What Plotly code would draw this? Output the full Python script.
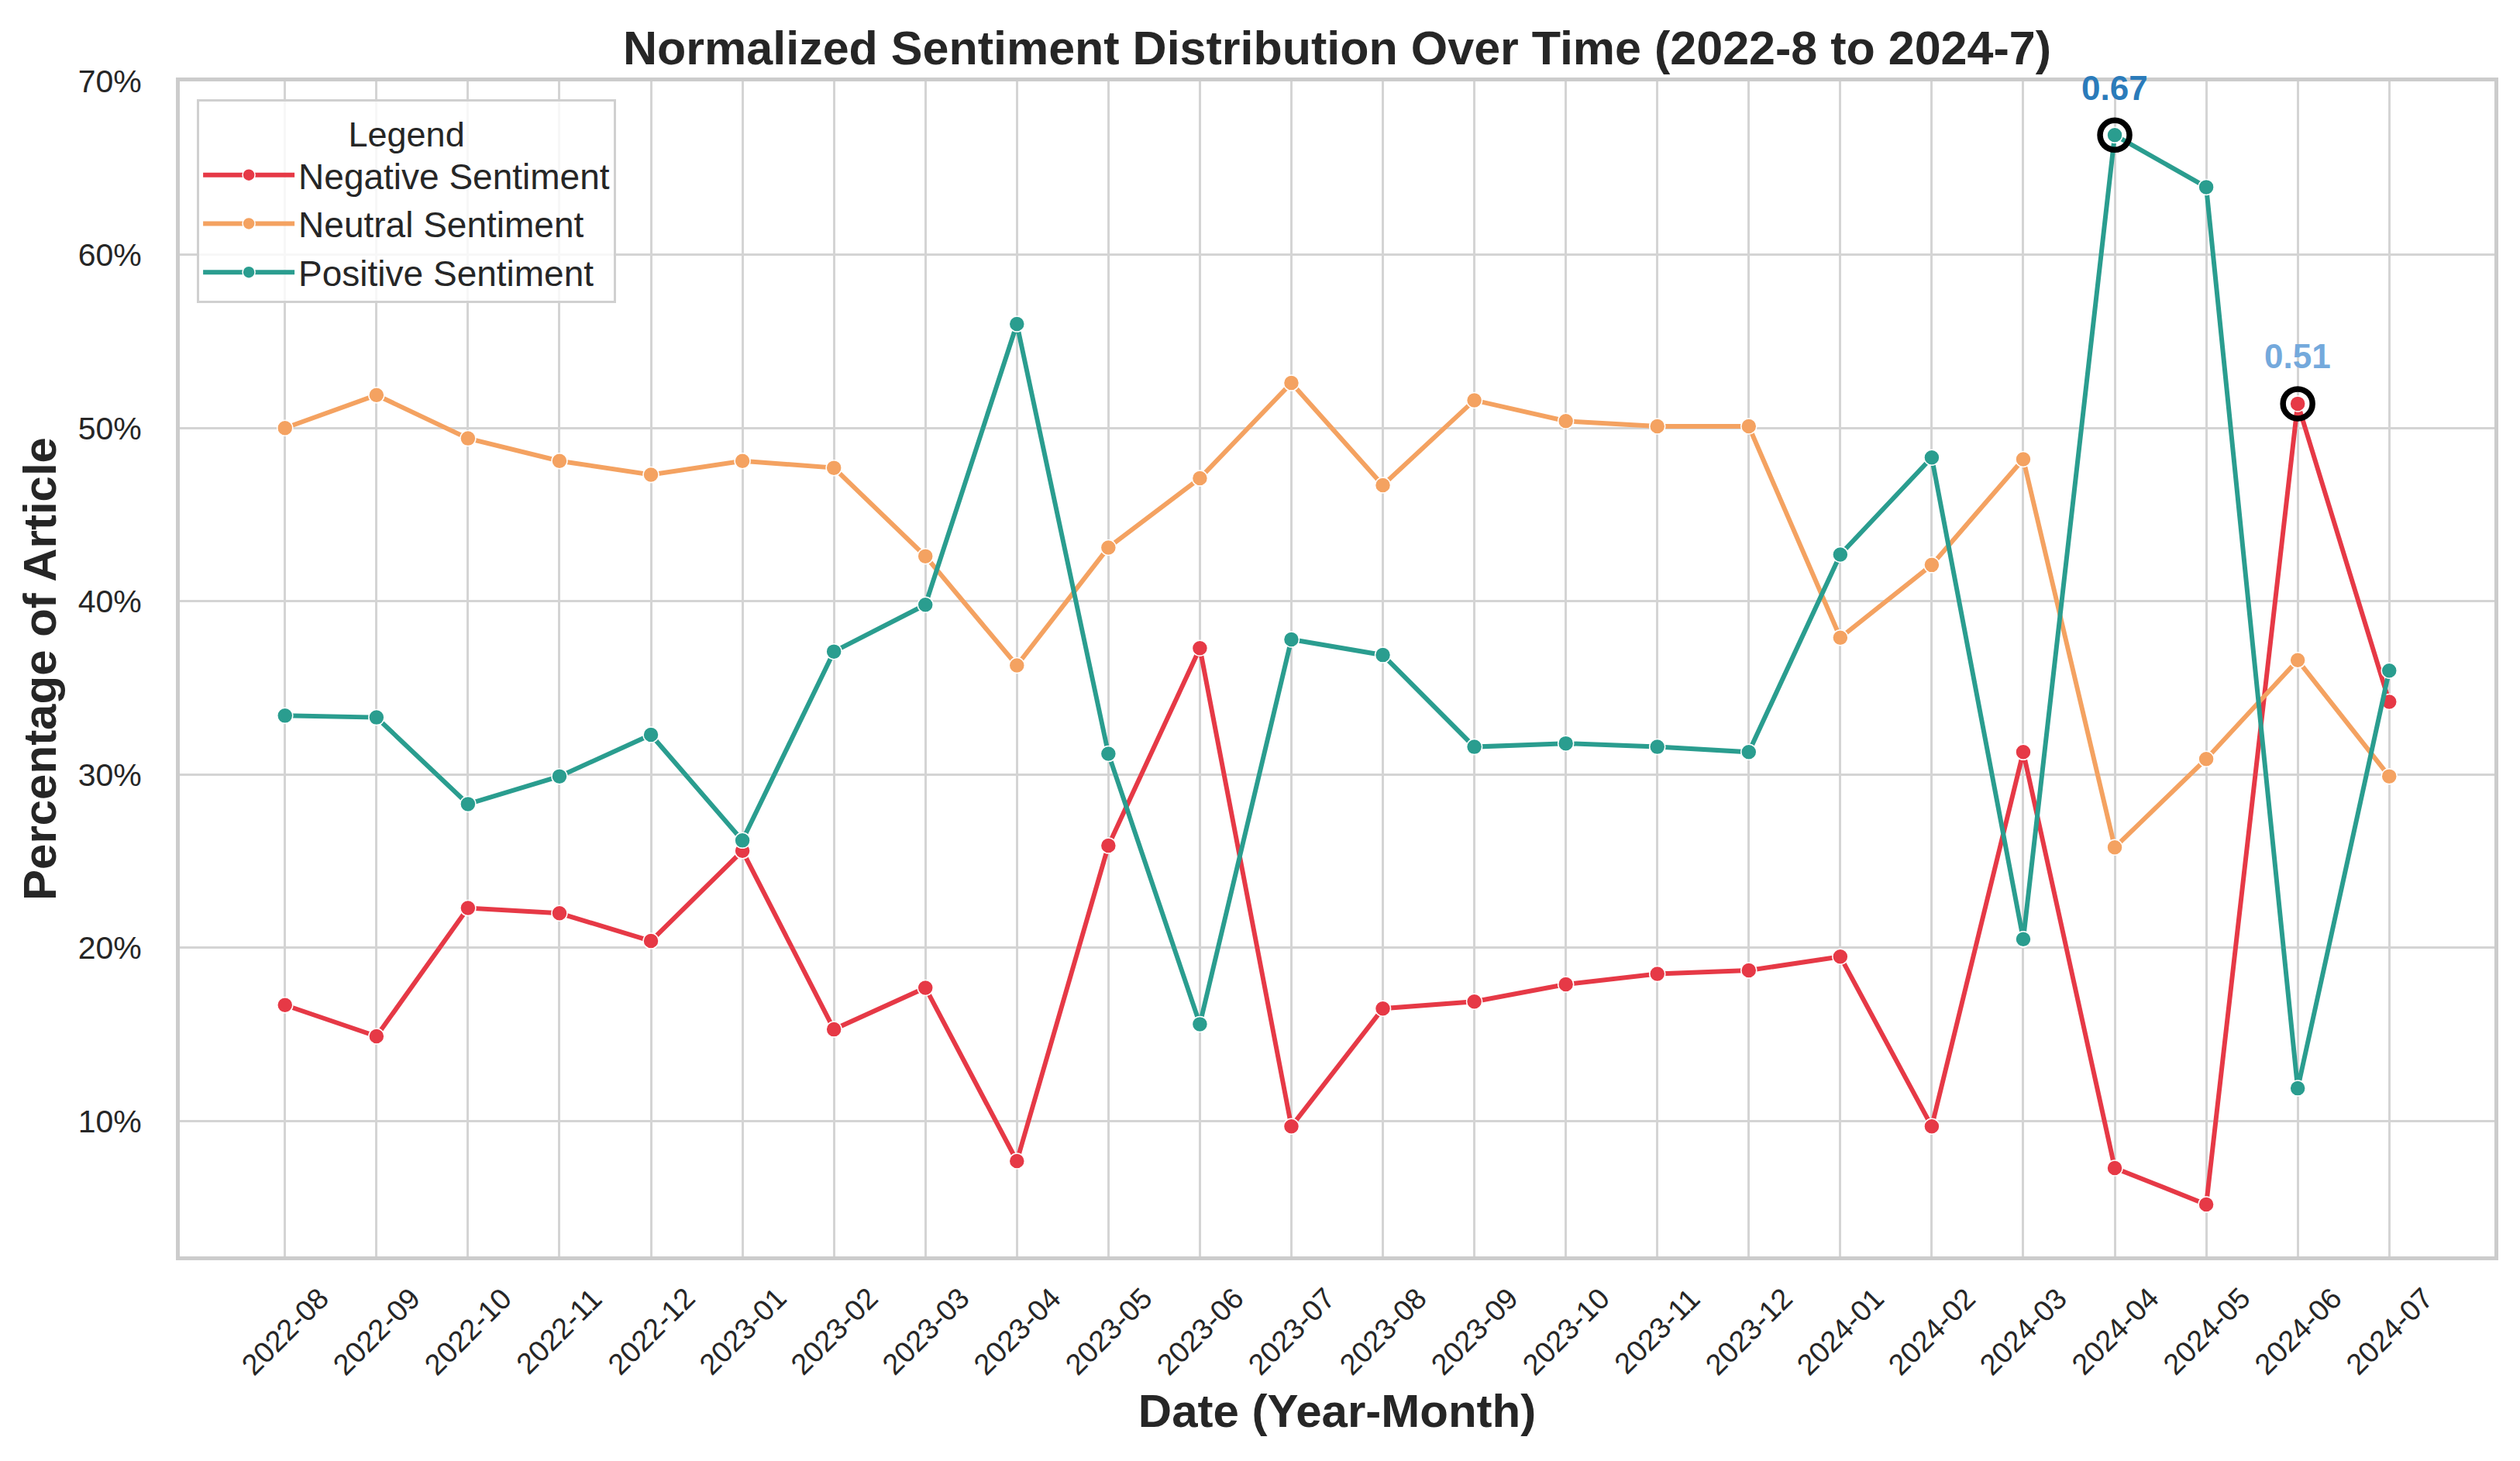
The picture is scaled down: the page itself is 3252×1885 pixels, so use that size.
import plotly.graph_objects as go

months = ["2022-08", "2022-09", "2022-10", "2022-11", "2022-12", "2023-01", "2023-02",
          "2023-03", "2023-04", "2023-05", "2023-06", "2023-07", "2023-08", "2023-09",
          "2023-10", "2023-11", "2023-12", "2024-01", "2024-02", "2024-03", "2024-04",
          "2024-05", "2024-06", "2024-07"]

negative = [16.7, 14.9, 22.3, 22.0, 20.4, 25.6, 15.3, 17.7, 7.7, 25.9, 37.3, 9.7,
            16.5, 16.9, 17.9, 18.5, 18.7, 19.5, 9.7, 31.3, 7.3, 5.2, 51.4, 34.2]
neutral = [50.0, 51.9, 49.4, 48.1, 47.3, 48.1, 47.7, 42.6, 36.3, 43.1, 47.1, 52.6,
           46.7, 51.6, 50.4, 50.1, 50.1, 37.9, 42.1, 48.2, 25.8, 30.9, 36.6, 29.9]
positive = [33.4, 33.3, 28.3, 29.9, 32.3, 26.2, 37.1, 39.8, 56.0, 31.2, 15.6, 37.8,
            36.9, 31.6, 31.8, 31.6, 31.3, 42.7, 48.3, 20.5, 66.9, 63.9, 11.9, 36.0]

series_names = ["Negative Sentiment", "Neutral Sentiment", "Positive Sentiment"]
series_values = [negative, neutral, positive]
series_colors = ["#e63946", "#f4a261", "#2a9d8f"]

y_ticks = [10, 20, 30, 40, 50, 60, 70]

FONT = "Arial, Liberation Sans, Helvetica, sans-serif"
TXT = "#262626"

fig = go.Figure()

for name, vals, col in zip(series_names, series_values, series_colors):
    fig.add_trace(go.Scatter(
        x=months, y=vals, name=name, mode="lines+markers",
        line=dict(color=col, width=6),
        marker=dict(color=col, size=20, line=dict(color="white", width=1.5)),
    ))

# highlight peaks (max positive, max negative)
peak_pos_i = positive.index(max(positive))
peak_neg_i = negative.index(max(negative))
highlights = [(months[peak_pos_i], positive[peak_pos_i], "#2b7bba"),
              (months[peak_neg_i], negative[peak_neg_i], "#74a9dc")]

fig.add_trace(go.Scatter(
    x=[h[0] for h in highlights], y=[h[1] for h in highlights],
    mode="markers", showlegend=False, hoverinfo="skip",
    marker=dict(symbol="circle-open", size=38, color="black", line=dict(color="black", width=7.5)),
))

annotations = []
for xm, yv, col in highlights:
    annotations.append(dict(
        x=xm, y=yv, xref="x", yref="y", text=f"<b>{yv/100:.2f}</b>",
        showarrow=False, yshift=61, xanchor="center", yanchor="middle",
        font=dict(family=FONT, size=44, color=col),
    ))

# x tick labels (centered rotated labels as in reference)
for m in months:
    annotations.append(dict(
        x=m, y=0, xref="x", yref="paper", text=m, showarrow=False,
        textangle=-45, xanchor="center", yanchor="top", yshift=-30,
        font=dict(family=FONT, size=38, color=TXT),
    ))

fig.update_layout(
    width=3252, height=1885,
    margin=dict(l=232, r=33, t=105, b=264),
    paper_bgcolor="white", plot_bgcolor="white",
    font=dict(family=FONT, color=TXT),
    title=dict(
        text="<b>Normalized Sentiment Distribution Over Time (2022-8 to 2024-7)</b>",
        x=0.5, xref="paper", xanchor="center",
        y=1 - 62 / 1885, yref="container", yanchor="middle",
        font=dict(family=FONT, size=61, color=TXT),
    ),
    legend=dict(
        x=0.0074, y=0.985, xanchor="left", yanchor="top",
        bgcolor="rgba(255,255,255,0.8)", bordercolor="#d0d0d0", borderwidth=3,
        font=dict(family=FONT, size=46, color=TXT),
        title=dict(text="Legend", side="top center", font=dict(family=FONT, size=45, color=TXT)),
        itemwidth=118,
    ),
    annotations=annotations,
    showlegend=True,
)

fig.update_xaxes(
    type="category", categoryorder="array", categoryarray=months,
    range=[-1.15, len(months) - 1 + 1.15],
    showticklabels=False, ticks="",
    showgrid=True, gridcolor="#d4d4d4", gridwidth=2.5,
    showline=True, linecolor="#cccccc", linewidth=5, mirror=True,
    zeroline=False,
    title=dict(text="<b>Date (Year-Month)</b>", standoff=175,
               font=dict(family=FONT, size=60, color=TXT)),
)

fig.update_yaxes(
    range=[2.2, 70.0],
    tickvals=y_ticks, ticktext=[f"{v}%" for v in y_ticks],
    tickfont=dict(family=FONT, size=41, color=TXT),
    ticks="", ticklabelstandoff=36,
    showgrid=True, gridcolor="#d4d4d4", gridwidth=2.5,
    showline=True, linecolor="#cccccc", linewidth=5, mirror=True,
    zeroline=False,
    title=dict(text="<b>Percentage of Article</b>", standoff=10,
               font=dict(family=FONT, size=60, color=TXT)),
)

fig.write_html("out.html", config={"displayModeBar": False},
               post_script="document.body.style.margin='0px';")
